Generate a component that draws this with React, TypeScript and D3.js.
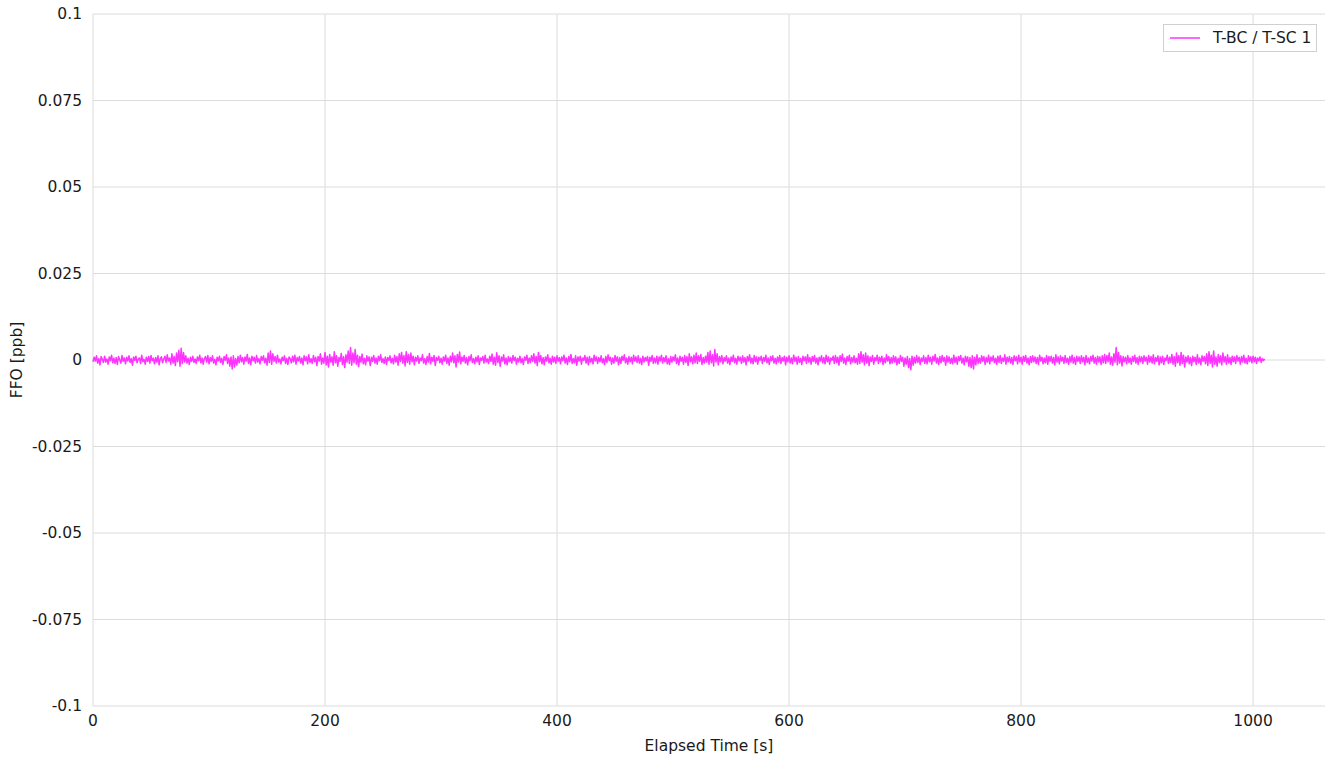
import React from "react";
import * as d3 from "d3";

// FFO values in units of 1e-4 ppb, one per second starting at t = 0
const ffoRaw = `
-5 8 -3 12 -9 4 -14 10 2 -7
11 -6 3 -12 9 -2 14 -8 5 -10
7 -13 10 1 -9 13 -4 6 -11 8
-3 12 -7 4 -15 9 -1 11 -8 3
6 -10 14 -5 2 -12 8 -4 10 -9
13 -2 5 -11 7 -6 12 -14 4 9
-8 3 11 -7 15 -3 6 -12 18 -9
10 -16 20 -5 28 -18 34 -10 22 -6
12 -9 5 -13 8 -4 11 -7 3 -10
9 -2 14 -8 6 -12 4 10 -6 13
-11 7 -4 12 -9 2 -14 8 -3 11
-7 5 -13 10 -1 15 -10 6 -18 9
-26 12 -20 4 -15 10 -8 14 -5 7
-12 9 -3 16 -10 6 -14 11 -2 8
-9 13 -6 4 -11 10 -1 12 -8 5
-15 20 -7 26 -12 18 -4 10 -9 14
-6 3 -11 8 -2 12 -10 5 -13 9
4 -8 11 -5 14 -12 7 -3 10 -9
6 -14 12 -2 9 -11 15 -7 4 -10
13 -5 8 -16 10 -3 18 -12 6 -9
22 -14 11 -20 16 -6 9 -15 24 -8
12 -18 7 -4 19 -13 10 -22 15 -6
26 -10 36 -15 20 -8 30 -12 14 -19
10 -6 17 -11 5 -14 12 -3 9 -16
8 -4 13 -9 6 -12 11 -2 15 -7
4 -10 9 -13 7 -1 12 -8 5 -11
14 -6 10 -15 18 -4 22 -9 13 -17
24 -7 16 -12 20 -5 11 -14 8 -3
12 -10 6 -2 15 -9 4 -13 10 -6
19 -11 8 -4 13 -16 7 -1 11 -8
5 -12 9 -3 14 -10 6 -15 11 -5
20 -8 12 -20 16 -6 23 -11 9 -4
13 -9 7 -14 10 -2 15 -7 4 -11
8 -5 12 -13 6 -1 10 -9 14 -6
3 -10 11 -4 17 -12 8 -15 21 -7
12 -18 9 -3 15 -11 6 -14 10 -5
7 -9 13 -2 8 -12 5 -6 11 -8
4 -13 9 -1 14 -10 6 -7 12 -4
18 -9 10 -16 22 -5 13 -11 7 -14
9 -3 15 -8 5 -12 11 -6 8 -10
12 -4 7 -11 9 -2 14 -9 6 -13
10 -5 16 -10 4 -8 12 -15 9 -3
11 -12 6 -1 13 -9 8 -14 10 -6
5 -11 14 -3 9 -10 7 -5 12 -8
4 -13 10 -7 15 -2 8 -12 6 -9
13 -4 9 -14 7 -10 11 -1 15 -8
6 -12 10 -5 8 -11 14 -3 9 -7
12 -9 5 -13 11 -6 7 -2 10 -15
8 -4 13 -10 6 -8 11 -12 9 -3
14 -9 7 -5 12 -11 4 -13 10 -6
9 -2 15 -10 6 -14 11 -4 8 -12
13 -7 10 -16 18 -5 9 -11 14 -8
20 -10 12 -4 16 -13 7 -9 11 -6
22 -12 26 -8 15 -17 30 -6 18 -14
10 -5 13 -11 7 -3 12 -9 6 -13
9 -4 14 -8 5 -12 11 -2 8 -10
12 -6 7 -14 10 -3 15 -9 6 -11
13 -5 9 -12 8 -1 11 -10 7 -4
14 -8 6 -13 10 -2 12 -9 5 -11
9 -6 13 -10 7 -3 11 -14 8 -5
12 -9 6 -11 14 -4 8 -12 10 -7
5 -13 11 -2 9 -10 15 -6 7 -12
10 -4 13 -9 6 -14 8 -3 12 -8
7 -11 14 -5 9 -12 6 -1 11 -10
13 -7 8 -15 12 -4 17 -9 6 -13
10 -3 14 -11 7 -6 12 -8 5 -12
18 -10 24 -6 15 -14 20 -9 12 -16
9 -4 13 -12 7 -2 14 -10 8 -5
11 -13 6 -8 15 -3 10 -11 7 -9
12 -6 9 -14 5 -10 13 -4 8 -18
6 -12 10 -22 4 -28 11 -15 8 -9
13 -7 9 -13 6 -4 12 -10 7 -11
14 -5 8 -12 11 -3 16 -9 6 -13
10 -8 13 -4 7 -15 12 -6 9 -10
5 -11 14 -7 8 -12 10 -2 13 -9
6 -14 11 -5 9 -18 7 -22 12 -26
8 -14 15 -10 6 -9 12 -4 10 -13
7 -6 14 -11 9 -3 12 -8 5 -12
11 -7 13 -10 6 -4 15 -12 8 -5
10 -9 7 -13 12 -2 9 -11 14 -6
8 -12 11 -4 13 -9 6 -14 10 -7
12 -5 9 -10 7 -13 14 -3 8 -11
6 -8 13 -12 10 -4 11 -9 7 -14
15 -6 9 -11 12 -3 8 -10 13 -7
5 -12 10 -6 14 -9 7 -13 11 -4
9 -10 12 -5 8 -14 13 -7 6 -11
10 -3 14 -9 7 -12 11 -6 9 -13
12 -8 16 -10 13 -5 20 -12 9 -15
18 -6 36 -14 22 -9 12 -17 10 -5
8 -11 13 -7 6 -12 10 -4 14 -9
7 -13 11 -5 9 -10 12 -3 8 -12
13 -6 10 -9 15 -11 7 -4 12 -14
9 -8 11 -13 6 -2 14 -10 8 -7
16 -12 10 -18 20 -8 13 -15 22 -10
14 -20 9 -6 12 -11 7 -16 11 -5
8 -13 15 -9 6 -14 12 -4 10 -11
18 -16 24 -10 14 -20 26 -12 9 -18
16 -8 12 -14 20 -6 10 -12 15 -9
7 -13 11 -5 9 -10 13 -3 8 -12
10 -6 14 -9 5 -11 12 -4 9 -8
11 -5 8 -10 6 -3 9 -7 4 -2 3
`;

const ffoValues: number[] = ffoRaw.trim().split(/\s+/).map((s) => +s * 1e-4);
const seriesName = "T-BC / T-SC 1";
const xTicks = [0, 200, 400, 600, 800, 1000];
const yTicks = [0.1, 0.075, 0.05, 0.025, 0, -0.025, -0.05, -0.075, -0.1];
const yTickLabels = ["0.1", "0.075", "0.05", "0.025", "0", "-0.025", "-0.05", "-0.075", "-0.1"];
const xDomain = [0, 1062];
const yDomain = [-0.1, 0.1];

const W = 1332;
const H = 760;
const M = { left: 93, right: 1325, top: 14, bottom: 706 };
const FONT = "'DejaVu Sans', sans-serif";
const FS = 15.5;
const TEXT = "#1a1a1a";
const GRID = "#dcdcdc";
const LINE = "#ff33ff";

export default function App() {
  const x = d3.scaleLinear().domain(xDomain).range([M.left, M.right]);
  const y = d3.scaleLinear().domain(yDomain).range([M.bottom, M.top]);
  const line = d3
    .line<number>()
    .x((_, i) => x(i))
    .y((d) => y(d));
  const path = line(ffoValues) || "";

  return (
    <svg
      width={W}
      height={H}
      style={{ position: "absolute", left: 0, top: 0, background: "#fff" }}
      fontFamily={FONT}
    >
      <rect x={0} y={0} width={W} height={H} fill="#fff" />
      {yTicks.map((t) => (
        <line key={"gy" + t} x1={M.left} x2={M.right} y1={y(t)} y2={y(t)} stroke={GRID} strokeWidth={1} />
      ))}
      {xTicks.map((t) => (
        <line key={"gx" + t} x1={x(t)} x2={x(t)} y1={M.top} y2={M.bottom} stroke={GRID} strokeWidth={1} />
      ))}
      {yTicks.map((t, i) => (
        <text key={"ty" + t} x={M.left - 11} y={y(t)} dy="0.35em" textAnchor="end" fontSize={FS} fill={TEXT}>
          {yTickLabels[i]}
        </text>
      ))}
      {xTicks.map((t) => (
        <text key={"tx" + t} x={x(t)} y={M.bottom + 20} textAnchor="middle" fontSize={FS} fill={TEXT}>
          {String(t)}
        </text>
      ))}
      <text x={(M.left + M.right) / 2} y={751} textAnchor="middle" fontSize={FS} fill={TEXT}>
        Elapsed Time [s]
      </text>
      <text
        transform={`translate(22, ${(M.top + M.bottom) / 2}) rotate(-90)`}
        textAnchor="middle"
        fontSize={FS}
        fill={TEXT}
      >
        FFO [ppb]
      </text>
      <path d={path} fill="none" stroke={LINE} strokeWidth={1.5} strokeLinejoin="round" />
      <g>
        <rect x={1163.5} y={24.5} width={153} height={27} fill="#fff" stroke="#d0d0d0" strokeWidth={1} />
        <line x1={1170} x2={1200} y1={38} y2={38} stroke={LINE} strokeWidth={1.5} />
        <text x={1213} y={38} dy="0.35em" fontSize={FS} fill={TEXT}>
          {seriesName}
        </text>
      </g>
    </svg>
  );
}
